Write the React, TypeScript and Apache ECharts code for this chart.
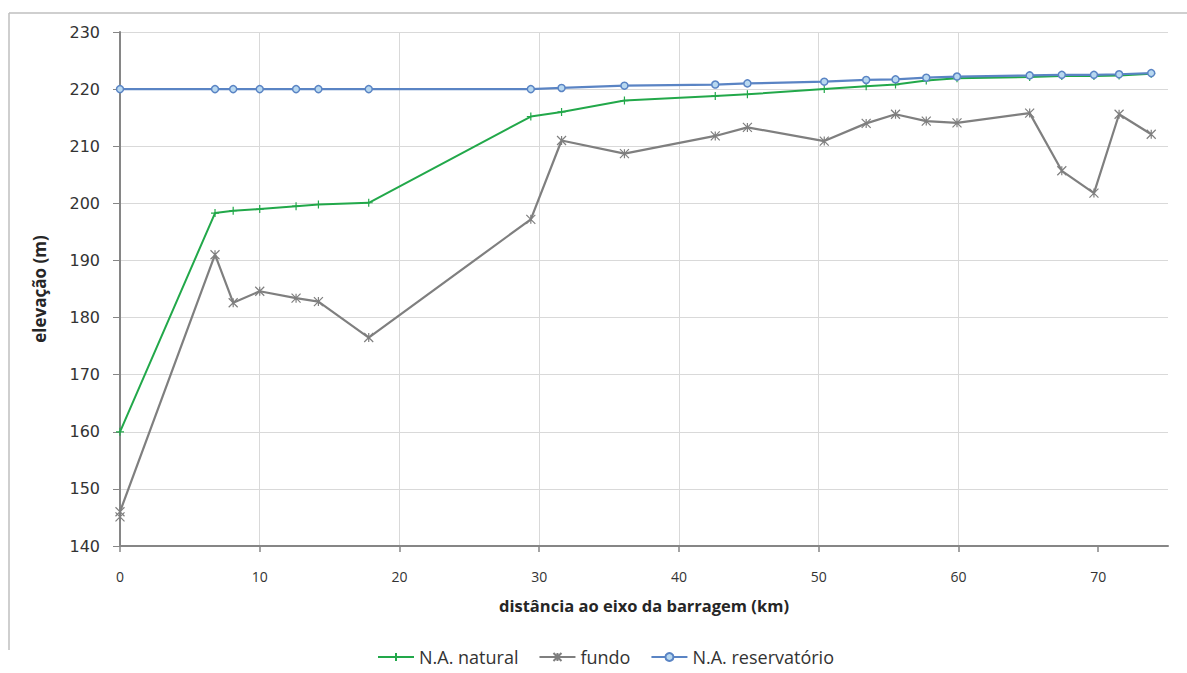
import React, { useEffect, useRef } from "react";
import * as echarts from "echarts";

const distKm = [0, 6.8, 8.1, 10, 12.6, 14.2, 17.8, 29.4, 31.6, 36.1, 42.6, 44.9, 50.4, 53.4, 55.5, 57.7, 59.9, 65.1, 67.4, 69.7, 71.5, 73.8];
const naNatural = [160, 198.3, 198.7, 199.0, 199.5, 199.8, 200.1, 215.2, 216.0, 218.0, 218.8, 219.1, 220.0, 220.5, 220.8, 221.5, 221.9, 222.1, 222.3, 222.3, 222.4, 222.7];
const fundoDistKm = [0, 0, 6.8, 8.1, 10, 12.6, 14.2, 17.8, 29.4, 31.6, 36.1, 42.6, 44.9, 50.4, 53.4, 55.5, 57.7, 59.9, 65.1, 67.4, 69.7, 71.5, 73.8];
const fundo = [145.1, 146.0, 191.0, 182.6, 184.6, 183.4, 182.8, 176.5, 197.2, 211.0, 208.7, 211.8, 213.3, 210.9, 214.0, 215.6, 214.4, 214.1, 215.8, 205.7, 201.8, 215.6, 212.1];
const naReservatorio = [220, 220, 220, 220, 220, 220, 220, 220, 220.2, 220.6, 220.8, 221.0, 221.3, 221.6, 221.7, 222.0, 222.2, 222.4, 222.5, 222.5, 222.6, 222.8];
const xTicks = [0, 10, 20, 30, 40, 50, 60, 70];
const seriesNames = ["N.A. natural", "fundo", "N.A. reservatório"];
const xTitle = "distância ao eixo da barragem (km)";
const yTitle = "elevação (m)";

const pair = (xs: number[], ys: number[]) => xs.map((x, i) => [x, ys[i]]);

export default function App() {
  const ref = useRef<HTMLDivElement>(null);
  useEffect(() => {
    if (!ref.current) return;
    const chart = echarts.init(ref.current, null, { renderer: "svg" });
    const font = "'Open Sans', Lato, sans-serif";
    chart.setOption({
      animation: false,
      backgroundColor: "#ffffff",
      textStyle: { fontFamily: font },
      grid: { left: 120, right: 19, top: 32, bottom: 127, containLabel: false },
      xAxis: {
        type: "value",
        min: 0,
        max: 75,
        interval: 10,
        name: xTitle,
        nameLocation: "middle",
        nameGap: 51,
        nameTextStyle: { fontSize: 16.5, fontWeight: "bold", color: "#262626", fontFamily: font },
        axisLine: { show: true, onZero: false, lineStyle: { color: "#868686", width: 2 } },
        axisTick: { show: true, length: 6, customValues: xTicks, lineStyle: { color: "#868686", width: 1.5 } },
        axisLabel: { customValues: xTicks, margin: 23, fontSize: 14, color: "#333333", fontFamily: font },
        splitLine: { show: true, showMaxLine: false, lineStyle: { color: "#d9d9d9", width: 1 } },
      },
      yAxis: {
        type: "value",
        min: 140,
        max: 230,
        interval: 10,
        name: yTitle,
        nameLocation: "middle",
        nameGap: 72,
        nameTextStyle: { fontSize: 17, fontWeight: "bold", color: "#262626", fontFamily: font },
        axisLine: { show: true, lineStyle: { color: "#868686", width: 2 } },
        axisTick: { show: true, length: 7, lineStyle: { color: "#868686", width: 1 } },
        axisLabel: { margin: 20, fontSize: 16, color: "#333333", fontFamily: "'DejaVu Sans', sans-serif" },
        splitLine: { show: true, lineStyle: { color: "#d9d9d9", width: 1 } },
      },
      legend: {
        left: 372,
        top: 643,
        itemWidth: 36,
        itemHeight: 10,
        itemGap: 20,
        textStyle: { fontSize: 18, color: "#333333", fontFamily: font },
        data: seriesNames,
      },
      graphic: [
        { type: "line", shape: { x1: 9, y1: 13, x2: 1187, y2: 13 }, style: { stroke: "#bfbfbf", lineWidth: 1.5 } },
        { type: "line", shape: { x1: 9, y1: 13, x2: 9, y2: 650 }, style: { stroke: "#bfbfbf", lineWidth: 1.5 } },
      ],
      series: [
        {
          name: seriesNames[0],
          type: "line",
          data: pair(distKm, naNatural),
          symbol: "path://M5,0 L5,10 M0,5 L10,5",
          symbolSize: 8,
          lineStyle: { color: "#22a84a", width: 2 },
          itemStyle: { color: "#22a84a", borderColor: "#22a84a", borderWidth: 1.2 },
          z: 2,
        },
        {
          name: seriesNames[1],
          type: "line",
          data: pair(fundoDistKm, fundo),
          symbol: "path://M0,0 L10,10 M10,0 L0,10 M5,0 L5,10",
          symbolSize: 9,
          lineStyle: { color: "#7f7f7f", width: 2.2 },
          itemStyle: { color: "#7f7f7f", borderColor: "#7f7f7f", borderWidth: 1.2 },
          z: 3,
        },
        {
          name: seriesNames[2],
          type: "line",
          data: pair(distKm, naReservatorio),
          symbol: "circle",
          symbolSize: 7,
          lineStyle: { color: "#5a84c4", width: 2.2 },
          itemStyle: { color: "#b8d8f0", borderColor: "#5a84c4", borderWidth: 1.5 },
          z: 4,
        },
      ],
    });
    return () => chart.dispose();
  }, []);
  return (
    <div
      ref={ref}
      style={{ position: "fixed", left: 0, top: 0, width: 1187, height: 673, background: "#fff" }}
    />
  );
}
